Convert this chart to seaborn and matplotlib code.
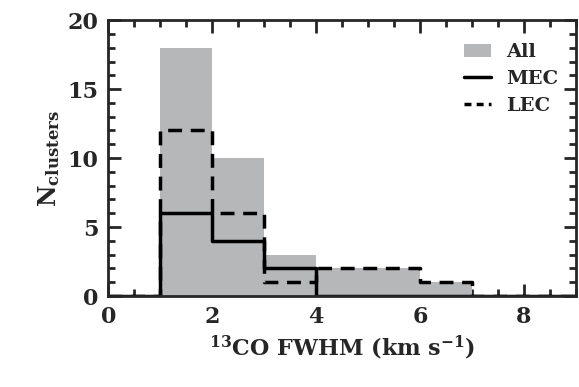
import numpy as np
import matplotlib.pyplot as plt
import seaborn as sns
from matplotlib.ticker import MultipleLocator
from matplotlib.patches import Patch
from matplotlib.lines import Line2D

# Histogram counts per 1 km/s bin (0-9)
bin_edges = [0, 1, 2, 3, 4, 5, 6, 7, 8, 9]
bin_centers = [0.5, 1.5, 2.5, 3.5, 4.5, 5.5, 6.5, 7.5, 8.5]
all_counts = [0, 18, 10, 3, 2, 2, 1, 0, 0]
mec_counts = [0, 6, 4, 2, 0, 0, 0, 0, 0]
lec_counts = [0, 12, 6, 1, 2, 2, 1, 0, 0]

sns.set_style("ticks")
plt.rcParams['font.family'] = ['DejaVu Serif']
plt.rcParams['font.weight'] = 'bold'
plt.rcParams['mathtext.fontset'] = 'dejavuserif'
plt.rcParams['mathtext.default'] = 'bf'

fig, ax = plt.subplots(figsize=(5.79, 3.87), dpi=100)
fig.subplots_adjust(left=0.187, right=0.995, top=0.948, bottom=0.235)

sns.histplot(x=bin_centers, weights=all_counts, bins=bin_edges, ax=ax,
             element="bars", color="#b6b7b9", edgecolor="none", alpha=1, linewidth=0)
sns.histplot(x=bin_centers, weights=mec_counts, bins=bin_edges, ax=ax,
             element="step", fill=False, color="black", linewidth=2.5)
sns.histplot(x=bin_centers, weights=lec_counts, bins=bin_edges, ax=ax,
             element="step", fill=False, color="black", linewidth=2.5,
             linestyle=(0, (4, 2.5)))

ax.set_xlim(0, 9)
ax.set_ylim(0, 20)
ax.xaxis.set_major_locator(MultipleLocator(2))
ax.xaxis.set_minor_locator(MultipleLocator(0.5))
ax.yaxis.set_major_locator(MultipleLocator(5))
ax.yaxis.set_minor_locator(MultipleLocator(1))
ax.tick_params(which='both', direction='in', top=True, right=True, width=2)
ax.tick_params(which='major', length=9, labelsize=16, pad=7)
ax.tick_params(which='minor', length=5)
for s in ax.spines.values():
    s.set_linewidth(2)

ax.set_xlabel(r'$^{13}$CO FWHM (km s$^{-1}$)', fontsize=16, fontweight='bold')
ax.set_ylabel(r'N$_{\mathbf{clusters}}$', fontsize=17, fontweight='bold')

handles = [Patch(facecolor="#b6b7b9", edgecolor="none"),
           Line2D([0], [0], color="black", lw=2.5),
           Line2D([0], [0], color="black", lw=2.5, linestyle=(0, (2, 1.5)))]
ax.legend(handles, ['All', 'MEC', 'LEC'], loc='upper right', frameon=False,
          fontsize=14, handlelength=1.4, labelspacing=0.45,
          bbox_to_anchor=(1.0, 0.98))

fig.savefig("out.png", dpi=100)
